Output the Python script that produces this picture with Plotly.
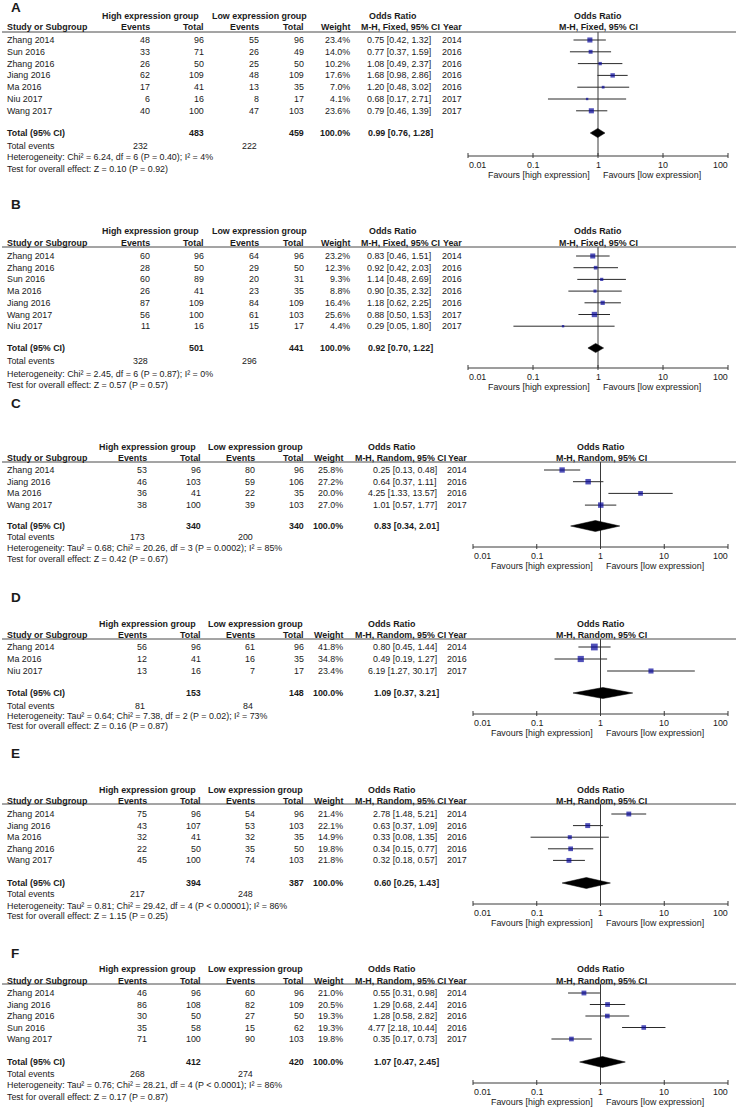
import math
import plotly.graph_objects as go

# ======================= DATA =======================
# ---- Panel A (M-H, Fixed) ----
a_study = ["Zhang 2014", "Sun 2016", "Zhang 2016", "Jiang 2016", "Ma 2016", "Niu 2017", "Wang 2017"]
a_ev_high = [48, 33, 26, 62, 17, 6, 40]
a_tot_high = [96, 71, 50, 109, 41, 16, 100]
a_ev_low = [55, 26, 25, 48, 13, 8, 47]
a_tot_low = [96, 49, 50, 109, 35, 17, 103]
a_weight = [23.4, 14.0, 10.2, 17.6, 7.0, 4.1, 23.6]
a_or = [0.75, 0.77, 1.08, 1.68, 1.20, 0.68, 0.79]
a_lo = [0.42, 0.37, 0.49, 0.98, 0.48, 0.17, 0.46]
a_hi = [1.32, 1.59, 2.37, 2.86, 3.02, 2.71, 1.39]
a_year = [2014, 2016, 2016, 2016, 2016, 2017, 2017]
a_pooled = [0.99, 0.76, 1.28]
a_het = "Heterogeneity: Chi² = 6.24, df = 6 (P = 0.40); I² = 4%"
a_test = "Test for overall effect: Z = 0.10 (P = 0.92)"

# ---- Panel B (M-H, Fixed) ----
b_study = ["Zhang 2014", "Zhang 2016", "Sun 2016", "Ma 2016", "Jiang 2016", "Wang 2017", "Niu 2017"]
b_ev_high = [60, 28, 60, 26, 87, 56, 11]
b_tot_high = [96, 50, 89, 41, 109, 100, 16]
b_ev_low = [64, 29, 20, 23, 84, 61, 15]
b_tot_low = [96, 50, 31, 35, 109, 103, 17]
b_weight = [23.2, 12.3, 9.3, 8.8, 16.4, 25.6, 4.4]
b_or = [0.83, 0.92, 1.14, 0.90, 1.18, 0.88, 0.29]
b_lo = [0.46, 0.42, 0.48, 0.35, 0.62, 0.50, 0.05]
b_hi = [1.51, 2.03, 2.69, 2.32, 2.25, 1.53, 1.80]
b_year = [2014, 2016, 2016, 2016, 2016, 2017, 2017]
b_pooled = [0.92, 0.70, 1.22]
b_het = "Heterogeneity: Chi² = 2.45, df = 6 (P = 0.87); I² = 0%"
b_test = "Test for overall effect: Z = 0.57 (P = 0.57)"

# ---- Panel C (M-H, Random) ----
c_study = ["Zhang 2014", "Jiang 2016", "Ma 2016", "Wang 2017"]
c_ev_high = [53, 46, 36, 38]
c_tot_high = [96, 103, 41, 100]
c_ev_low = [80, 59, 22, 39]
c_tot_low = [96, 106, 35, 103]
c_weight = [25.8, 27.2, 20.0, 27.0]
c_or = [0.25, 0.64, 4.25, 1.01]
c_lo = [0.13, 0.37, 1.33, 0.57]
c_hi = [0.48, 1.11, 13.57, 1.77]
c_year = [2014, 2016, 2016, 2017]
c_pooled = [0.83, 0.34, 2.01]
c_het = "Heterogeneity: Tau² = 0.68; Chi² = 20.26, df = 3 (P = 0.0002); I² = 85%"
c_test = "Test for overall effect: Z = 0.42 (P = 0.67)"

# ---- Panel D (M-H, Random) ----
d_study = ["Zhang 2014", "Ma 2016", "Niu 2017"]
d_ev_high = [56, 12, 13]
d_tot_high = [96, 41, 16]
d_ev_low = [61, 16, 7]
d_tot_low = [96, 35, 17]
d_weight = [41.8, 34.8, 23.4]
d_or = [0.80, 0.49, 6.19]
d_lo = [0.45, 0.19, 1.27]
d_hi = [1.44, 1.27, 30.17]
d_year = [2014, 2016, 2017]
d_pooled = [1.09, 0.37, 3.21]
d_het = "Heterogeneity: Tau² = 0.64; Chi² = 7.38, df = 2 (P = 0.02); I² = 73%"
d_test = "Test for overall effect: Z = 0.16 (P = 0.87)"

# ---- Panel E (M-H, Random) ----
e_study = ["Zhang 2014", "Jiang 2016", "Ma 2016", "Zhang 2016", "Wang 2017"]
e_ev_high = [75, 43, 32, 22, 45]
e_tot_high = [96, 107, 41, 50, 100]
e_ev_low = [54, 53, 32, 35, 74]
e_tot_low = [96, 103, 35, 50, 103]
e_weight = [21.4, 22.1, 14.9, 19.8, 21.8]
e_or = [2.78, 0.63, 0.33, 0.34, 0.32]
e_lo = [1.48, 0.37, 0.08, 0.15, 0.18]
e_hi = [5.21, 1.09, 1.35, 0.77, 0.57]
e_year = [2014, 2016, 2016, 2016, 2017]
e_pooled = [0.60, 0.25, 1.43]
e_het = "Heterogeneity: Tau² = 0.81; Chi² = 29.42, df = 4 (P < 0.00001); I² = 86%"
e_test = "Test for overall effect: Z = 1.15 (P = 0.25)"

# ---- Panel F (M-H, Random) ----
f_study = ["Zhang 2014", "Jiang 2016", "Zhang 2016", "Sun 2016", "Wang 2017"]
f_ev_high = [46, 86, 30, 35, 71]
f_tot_high = [96, 108, 50, 58, 100]
f_ev_low = [60, 82, 27, 15, 90]
f_tot_low = [96, 109, 50, 62, 103]
f_weight = [21.0, 20.5, 19.3, 19.3, 19.8]
f_or = [0.55, 1.29, 1.28, 4.77, 0.35]
f_lo = [0.31, 0.68, 0.58, 2.18, 0.17]
f_hi = [0.98, 2.44, 2.82, 10.44, 0.73]
f_year = [2014, 2016, 2016, 2016, 2017]
f_pooled = [1.07, 0.47, 2.45]
f_het = "Heterogeneity: Tau² = 0.76; Chi² = 28.21, df = 4 (P < 0.0001); I² = 86%"
f_test = "Test for overall effect: Z = 0.17 (P = 0.87)"

tick_values = [0.01, 0.1, 1, 10, 100]
tick_labels = ["0.01", "0.1", "1", "10", "100"]
favours_left = "Favours [high expression]"
favours_right = "Favours [low expression]"

panels = [
    dict(name="A", method="Fixed", study=a_study, e1=a_ev_high, t1=a_tot_high, e2=a_ev_low, t2=a_tot_low,
         w=a_weight, orr=a_or, lo=a_lo, hi=a_hi, year=a_year, pooled=a_pooled, het=a_het, test=a_test),
    dict(name="B", method="Fixed", study=b_study, e1=b_ev_high, t1=b_tot_high, e2=b_ev_low, t2=b_tot_low,
         w=b_weight, orr=b_or, lo=b_lo, hi=b_hi, year=b_year, pooled=b_pooled, het=b_het, test=b_test),
    dict(name="C", method="Random", study=c_study, e1=c_ev_high, t1=c_tot_high, e2=c_ev_low, t2=c_tot_low,
         w=c_weight, orr=c_or, lo=c_lo, hi=c_hi, year=c_year, pooled=c_pooled, het=c_het, test=c_test),
    dict(name="D", method="Random", study=d_study, e1=d_ev_high, t1=d_tot_high, e2=d_ev_low, t2=d_tot_low,
         w=d_weight, orr=d_or, lo=d_lo, hi=d_hi, year=d_year, pooled=d_pooled, het=d_het, test=d_test),
    dict(name="E", method="Random", study=e_study, e1=e_ev_high, t1=e_tot_high, e2=e_ev_low, t2=e_tot_low,
         w=e_weight, orr=e_or, lo=e_lo, hi=e_hi, year=e_year, pooled=e_pooled, het=e_het, test=e_test),
    dict(name="F", method="Random", study=f_study, e1=f_ev_high, t1=f_tot_high, e2=f_ev_low, t2=f_tot_low,
         w=f_weight, orr=f_or, lo=f_lo, hi=f_hi, year=f_year, pooled=f_pooled, het=f_het, test=f_test),
]

# ======================= LAYOUT (pixel geometry) =======================
W, H = 736, 1107
FONT = "Liberation Sans, Arial, Helvetica, sans-serif"
FS = 8.9
TXT = "#1a1a1a"
LINE = "#3a3a3a"
BLUE = "#06069a"

GEOM = {
    "A": dict(label=7, h1=16, h2=27, rule=32, row0=40, step=11.8, total=133, events=146, het=157, test=169, axis=156),
    "B": dict(label=204, h1=231, h2=243, rule=247, row0=256, step=11.7, total=348, events=361, het=374, test=385, axis=368),
    "C": dict(label=403, h1=447, h2=458, rule=462, row0=470, step=11.7, total=526, events=537, het=548, test=559, axis=547),
    "D": dict(label=597, h1=624, h2=635, rule=639, row0=647, step=12.0, total=693, events=706, het=716, test=726, axis=714),
    "E": dict(label=753, h1=790, h2=801, rule=804, row0=814, step=11.6, total=883, events=894, het=906, test=916, axis=904),
    "F": dict(label=953, h1=969, h2=981, rule=984, row0=993, step=11.5, total=1062, events=1074, het=1085, test=1097, axis=1083),
}
COLS = {
    "Fixed": dict(study=7, ev1=150, tot1=204, ev2=259, tot2=304, wt=350, orv=431, ortot=433, year=442,
                  mh=440, orhead=393, one=598, lo_px=468, hi_px=728, dh=4.6, axis="x"),
    "Random": dict(study=7, ev1=147, tot1=201, ev2=255, tot2=304, wt=343, orv=437, ortot=439, year=447,
                   mh=446, orhead=392, one=601, lo_px=473, hi_px=728, dh=5.5, axis="x2"),
}

annotations = []
shapes = []
fig = go.Figure()


def txt(x, y, s, anchor="left", bold=False, size=FS):
    annotations.append(dict(
        x=x / W, y=y, xref="paper", yref="y", text=(f"<b>{s}</b>" if bold else s),
        showarrow=False, xanchor=anchor, yanchor="middle", borderpad=0, borderwidth=0,
        font=dict(size=size, color=TXT, family=FONT)))


def fmt_ci(o, l, h):
    return f"{o:.2f} [{l:.2f}, {h:.2f}]"


for p in panels:
    g = GEOM[p["name"]]
    c = COLS[p["method"]]
    xa = c["axis"]
    n = len(p["study"])
    rows = [g["row0"] + i * g["step"] for i in range(n)]

    # panel label
    txt(11, g["label"], p["name"], bold=True, size=13.5)

    # headers
    txt(c["ev1"], g["h1"], "High expression group", anchor="center", bold=True)
    txt(c["ev2"], g["h1"], "Low expression group", anchor="center", bold=True)
    txt(c["orhead"], g["h1"], "Odds Ratio", anchor="center", bold=True)
    txt(c["one"], g["h1"], "Odds Ratio", anchor="center", bold=True)
    txt(c["study"], g["h2"], "Study or Subgroup", bold=True)
    txt(c["ev1"], g["h2"], "Events", anchor="right", bold=True)
    txt(c["tot1"], g["h2"], "Total", anchor="right", bold=True)
    txt(c["ev2"], g["h2"], "Events", anchor="right", bold=True)
    txt(c["tot2"], g["h2"], "Total", anchor="right", bold=True)
    txt(c["wt"], g["h2"], "Weight", anchor="right", bold=True)
    mh = f"M-H, {p['method']}, 95% CI"
    txt(c["mh"], g["h2"], mh, anchor="right", bold=True)
    txt(c["year"] + 1, g["h2"], "Year", bold=True)
    txt(c["one"], g["h2"], mh, anchor="center", bold=True)

    shapes.append(dict(type="line", xref="paper", yref="y", x0=2 / W, x1=1, y0=g["rule"], y1=g["rule"],
                       line=dict(color="#4a4a4a", width=1)))

    # study rows
    for i in range(n):
        y = rows[i]
        txt(c["study"], y, p["study"][i])
        txt(c["ev1"], y, str(p["e1"][i]), anchor="right")
        txt(c["tot1"], y, str(p["t1"][i]), anchor="right")
        txt(c["ev2"], y, str(p["e2"][i]), anchor="right")
        txt(c["tot2"], y, str(p["t2"][i]), anchor="right")
        txt(c["wt"], y, f"{p['w'][i]:.1f}%", anchor="right")
        txt(c["orv"], y, fmt_ci(p["orr"][i], p["lo"][i], p["hi"][i]), anchor="right")
        txt(c["year"], y, str(p["year"][i]))

    # total rows
    txt(c["study"], g["total"], "Total (95% CI)", bold=True)
    txt(c["tot1"], g["total"], str(sum(p["t1"])), anchor="right", bold=True)
    txt(c["tot2"], g["total"], str(sum(p["t2"])), anchor="right", bold=True)
    txt(c["wt"], g["total"], "100.0%", anchor="right", bold=True)
    txt(c["ortot"], g["total"], fmt_ci(*p["pooled"]), anchor="right", bold=True)
    txt(c["study"], g["events"], "Total events")
    txt(c["ev1"] - 2, g["events"], str(sum(p["e1"])), anchor="right")
    txt(c["ev2"] - 2, g["events"], str(sum(p["e2"])), anchor="right")
    txt(c["study"], g["het"], p["het"])
    txt(c["study"], g["test"], p["test"])

    # ---- forest plot ----
    fig.add_trace(go.Scatter(x=[1, 1], y=[g["rule"], g["axis"]], xaxis=xa, yaxis="y", mode="lines",
                             line=dict(color=LINE, width=1), hoverinfo="skip", showlegend=False))
    cx, cy = [], []
    for i in range(n):
        cx += [p["lo"][i], p["hi"][i], None]
        cy += [rows[i], rows[i], None]
    fig.add_trace(go.Scatter(x=cx, y=cy, xaxis=xa, yaxis="y", mode="lines",
                             line=dict(color="#2a2a2a", width=1), hoverinfo="skip", showlegend=False))
    fig.add_trace(go.Scatter(x=p["orr"], y=rows, xaxis=xa, yaxis="y", mode="markers",
                             marker=dict(symbol="square", color=BLUE,
                                         size=[max(2.4, math.sqrt(w) * 1.05) for w in p["w"]],
                                         line=dict(width=0)),
                             cliponaxis=False, hoverinfo="skip", showlegend=False))
    po, pl, ph = p["pooled"]
    t, dh = g["total"], c["dh"]
    fig.add_trace(go.Scatter(x=[pl, po, ph, po, pl], y=[t, t - dh, t, t + dh, t], xaxis=xa, yaxis="y",
                             mode="lines", fill="toself", fillcolor="black", line=dict(color="black", width=0.5),
                             hoverinfo="skip", showlegend=False))
    ax_y = g["axis"]
    tx, ty = [tick_values[0], tick_values[-1], None], [ax_y, ax_y, None]
    for tv in tick_values:
        tx += [tv, tv, None]
        ty += [ax_y - 3, ax_y + 2, None]
    fig.add_trace(go.Scatter(x=tx, y=ty, xaxis=xa, yaxis="y", mode="lines",
                             line=dict(color=LINE, width=1), hoverinfo="skip", showlegend=False))
    span = c["hi_px"] - c["lo_px"]
    for k, (tv, tl) in enumerate(zip(tick_values, tick_labels)):
        px = c["lo_px"] + (math.log10(tv) + 2) / 4 * span
        anchor = "left" if k == 0 else ("right" if k == len(tick_values) - 1 else "center")
        txt(px + (1 if k == 0 else 0), ax_y + 8.5, tl, anchor=anchor)
    txt(c["one"] - 8, ax_y + 18.5, favours_left, anchor="right")
    txt(c["one"] + 5, ax_y + 18.5, favours_right, anchor="left")


def dom(lo_px, hi_px, pad=0.02):
    per = (hi_px - lo_px) / 4.0
    return [(lo_px - pad * per) / W, (hi_px + pad * per) / W]


fig.update_layout(
    width=W, height=H, margin=dict(l=0, r=0, t=0, b=0),
    paper_bgcolor="white", plot_bgcolor="rgba(0,0,0,0)",
    showlegend=False, annotations=annotations, shapes=shapes,
    font=dict(family=FONT, size=FS, color=TXT),
    xaxis=dict(type="log", range=[-2.02, 2.02], domain=dom(COLS["Fixed"]["lo_px"], COLS["Fixed"]["hi_px"]),
               anchor="y", visible=False, fixedrange=True),
    xaxis2=dict(type="log", range=[-2.02, 2.02], domain=dom(COLS["Random"]["lo_px"], COLS["Random"]["hi_px"]),
                anchor="y", visible=False, fixedrange=True),
    yaxis=dict(range=[H, 0], domain=[0, 1], anchor="x", visible=False, fixedrange=True),
)

fig.write_html("out.html", config={"displayModeBar": False},
               post_script="document.body.style.margin='0';document.body.style.overflow='hidden';")
